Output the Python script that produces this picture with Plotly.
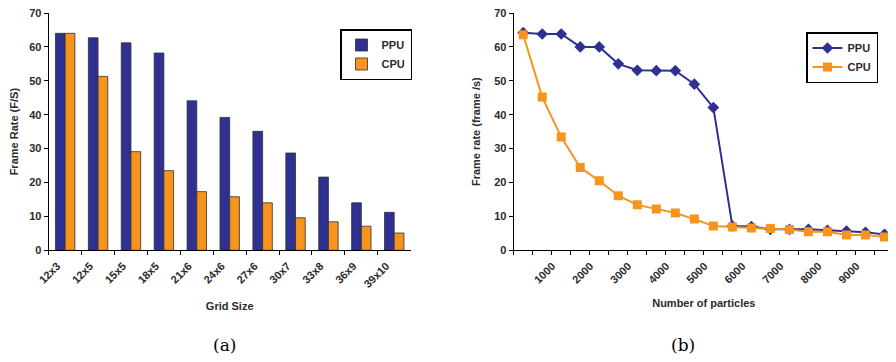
import plotly.graph_objects as go

# ---- data: (a) grid size bar chart ----
grid_sizes = ["12x3", "12x5", "15x5", "18x5", "21x6", "24x6", "27x6", "30x7", "33x8", "36x9", "39x10"]
ppu_grid = [64.0, 62.7, 61.2, 58.2, 44.1, 39.2, 35.1, 28.7, 21.6, 14.0, 11.2]
cpu_grid = [64.0, 51.3, 29.1, 23.5, 17.3, 15.8, 14.0, 9.6, 8.4, 7.1, 5.1]

# ---- data: (b) particle count line chart ----
particles = [500, 1000, 1500, 2000, 2500, 3000, 3500, 4000, 4500, 5000,
             5500, 6000, 6500, 7000, 7500, 8000, 8500, 9000, 9500, 10000]
ppu_part = [64.2, 63.8, 63.8, 60.0, 60.0, 55.0, 53.1, 53.0, 53.0, 49.0,
            42.1, 7.2, 7.0, 6.2, 6.2, 6.2, 5.9, 5.7, 5.3, 4.7]
cpu_part = [63.6, 45.2, 33.4, 24.4, 20.5, 16.1, 13.4, 12.2, 11.0, 9.2,
            7.2, 6.9, 6.6, 6.4, 6.1, 5.5, 5.5, 4.5, 4.5, 3.9]
particle_ticks = [1000, 2000, 3000, 4000, 5000, 6000, 7000, 8000, 9000]

NAVY = "#2E3192"
ORANGE = "#F7941D"
FONT = "Liberation Sans"
TXT = "#2b2b2b"

W, H, OFF = 896, 362, 8  # page offset of the figure (body margin)


def px(x):
    return (x - OFF) / W


def py(y):
    return 1 - (y - OFF) / H


fig = go.Figure()

fig.add_trace(go.Bar(x=grid_sizes, y=ppu_grid, name="PPU", marker=dict(color=NAVY, line=dict(color="#303030", width=0.8)),
                     xaxis="x", yaxis="y", legend="legend"))
fig.add_trace(go.Bar(x=grid_sizes, y=cpu_grid, name="CPU", marker=dict(color=ORANGE, line=dict(color="#303030", width=0.8)),
                     xaxis="x", yaxis="y", legend="legend"))

fig.add_trace(go.Scatter(x=particles, y=ppu_part, name="PPU", mode="lines+markers",
                         line=dict(color=NAVY, width=2), marker=dict(symbol="diamond", size=9, color=NAVY),
                         xaxis="x2", yaxis="y2", legend="legend2"))
fig.add_trace(go.Scatter(x=particles, y=cpu_part, name="CPU", mode="lines+markers",
                         line=dict(color=ORANGE, width=2), marker=dict(symbol="square", size=9, color=ORANGE),
                         xaxis="x2", yaxis="y2", legend="legend2"))

tickfont = dict(family=FONT, size=11, color=TXT, weight="bold")
titlefont = dict(family=FONT, size=11, color=TXT, weight="bold")
legfont = dict(family=FONT, size=11, color=TXT, weight="bold")
ydom = [py(250.3), py(13)]

common_y = dict(range=[0, 70], dtick=10, ticks="outside", ticklen=4, tickcolor="black",
                showline=True, linecolor="black", linewidth=1.2, tickfont=tickfont,
                showgrid=False, zeroline=False, automargin=False, ticklabeloverflow="allow")

fig.update_layout(
    width=W, height=H,
    margin=dict(l=0, r=0, t=0, b=0),
    paper_bgcolor="white", plot_bgcolor="white",
    font=dict(family=FONT, color=TXT),
    barmode="group", bargap=0.41, bargroupgap=0,
    xaxis=dict(domain=[px(48.7), px(410.7)], anchor="y", type="category",
               tickson="boundaries", ticks="outside", ticklen=4, tickcolor="black",
               showline=True, linecolor="black", linewidth=1.2, automargin=False,
               ticklabeloverflow="allow", ticklabelshift=-8, ticklabelstandoff=4,
               tickangle=-45, tickfont=tickfont, showgrid=False,
               title=dict(text="Grid Size", font=titlefont, standoff=13)),
    yaxis=dict(domain=ydom, anchor="x", **common_y,
               title=dict(text="Frame Rate (F/S)", font=titlefont, standoff=10)),
    xaxis2=dict(domain=[px(513.7), px(894)], anchor="y2", range=[250, 10250],
                tickvals=particle_ticks, ticks="", automargin=False,
                ticklabeloverflow="allow", ticklabelshift=10, ticklabelstandoff=4,
                showline=True, linecolor="black", linewidth=1.2,
                minor=dict(tickmode="linear", tick0=250, dtick=500, ticks="outside", ticklen=4, tickcolor="black", showgrid=False),
                tickangle=-45, tickfont=tickfont, showgrid=False, zeroline=False,
                title=dict(text="Number of particles", font=titlefont, standoff=14)),
    yaxis2=dict(domain=ydom, anchor="x2", **common_y,
                title=dict(text="Frame rate (frame /s)", font=titlefont, standoff=11)),
    legend=dict(x=px(412), y=py(29), xanchor="right", yanchor="top",
                bordercolor="black", borderwidth=1.5, bgcolor="white",
                font=legfont, tracegroupgap=0, itemwidth=30),
    legend2=dict(x=px(878), y=py(32), xanchor="right", yanchor="top",
                 bordercolor="black", borderwidth=1.5, bgcolor="white",
                 font=legfont, tracegroupgap=0, itemwidth=30),
    showlegend=True,
    annotations=[
        dict(text="(a)", x=px(224), y=py(345), xref="paper", yref="paper", showarrow=False,
             xanchor="center", yanchor="middle",
             font=dict(family="DejaVu Serif", size=17, color="black")),
        dict(text="(b)", x=px(683), y=py(345), xref="paper", yref="paper", showarrow=False,
             xanchor="center", yanchor="middle",
             font=dict(family="DejaVu Serif", size=17, color="black")),
    ],
)

fig.write_html("out.html")
